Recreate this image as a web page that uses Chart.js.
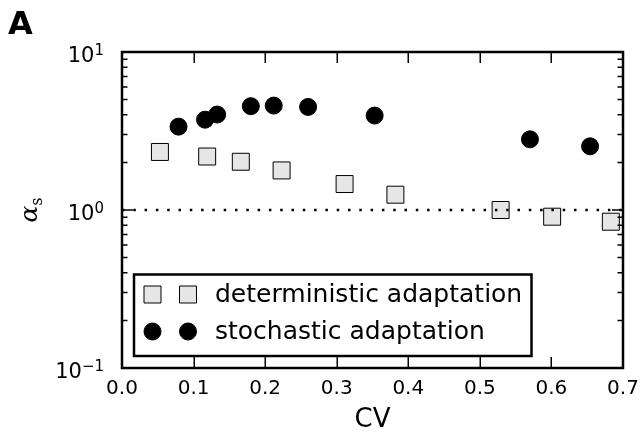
<!DOCTYPE html>
<html><head><meta charset="utf-8">
<script src="https://cdn.jsdelivr.net/npm/chart.js@4/dist/chart.umd.min.js"></script>
<style>html,body{margin:0;padding:0;background:#fff}#wrap{position:relative;width:643px;height:440px}</style>
</head><body><div id="wrap"><canvas id="c"></canvas></div>
<script>
// ---- data ----
const seriesNames = ['deterministic adaptation', 'stochastic adaptation'];
const detCV    = [0.053, 0.119, 0.166, 0.223, 0.311, 0.382, 0.529, 0.601, 0.683];
const detAlpha = [2.33, 2.18, 2.02, 1.78, 1.46, 1.25, 1.00, 0.907, 0.843];
const stoCV    = [0.079, 0.116, 0.133, 0.180, 0.212, 0.260, 0.353, 0.570, 0.654];
const stoAlpha = [3.37, 3.73, 4.02, 4.54, 4.58, 4.49, 3.96, 2.80, 2.53];
const refLevel = 1;
const xMin = 0, xMax = 0.7;
const xTicks = [0, 0.1, 0.2, 0.3, 0.4, 0.5, 0.6, 0.7];
const xTickLabels = ['0.0', '0.1', '0.2', '0.3', '0.4', '0.5', '0.6', '0.7'];
const yMin = 0.1, yMax = 10;
const yTicks = [0.1, 1, 10];
const yTickBase = ['10', '10', '10'];
const yTickExp = ['\u22121', '0', '1'];
const yMinorTicks = [0.2, 0.3, 0.4, 0.5, 0.6, 0.7, 0.8, 0.9, 2, 3, 4, 5, 6, 7, 8, 9];
const xLabel = 'CV';
const panelLabel = 'A';

const FONT = "'DejaVu Sans', sans-serif";
const SERIF = "'DejaVu Serif', serif";

const framePlugin = {
  id: 'frame',
  afterDatasetsDraw(chart) {
    const {ctx, chartArea: a, scales: {x, y}} = chart;
    ctx.save();
    ctx.strokeStyle = '#000';
    ctx.lineWidth = 1.5;
    ctx.beginPath();
    xTicks.forEach(v => {
      const px = Math.round(x.getPixelForValue(v)) + 0.25;
      ctx.moveTo(px, a.bottom); ctx.lineTo(px, a.bottom - 11);
      ctx.moveTo(px, a.top); ctx.lineTo(px, a.top + 11);
    });
    yTicks.forEach(v => {
      const py = y.getPixelForValue(v);
      ctx.moveTo(a.left, py); ctx.lineTo(a.left + 11, py);
      ctx.moveTo(a.right, py); ctx.lineTo(a.right - 11, py);
    });
    yMinorTicks.forEach(v => {
      const py = y.getPixelForValue(v);
      ctx.moveTo(a.left, py); ctx.lineTo(a.left + 5.5, py);
      ctx.moveTo(a.right, py); ctx.lineTo(a.right - 5.5, py);
    });
    ctx.stroke();
    ctx.lineWidth = 2.5;
    ctx.strokeRect(a.left, a.top, a.right - a.left, a.bottom - a.top);
    ctx.restore();
  },
  afterDraw(chart) {
    const {ctx, chartArea: a, scales: {y}} = chart;
    ctx.save();
    // y tick labels with superscript exponents
    ctx.fillStyle = '#000';
    ctx.textAlign = 'left';
    ctx.textBaseline = 'alphabetic';
    yTicks.forEach((v, i) => {
      const py = y.getPixelForValue(v);
      ctx.font = '15px ' + FONT;
      const we = ctx.measureText(yTickExp[i]).width;
      ctx.font = '21px ' + FONT;
      const wb = ctx.measureText(yTickBase[i]).width;
      const right = a.left - 18;
      ctx.fillText(yTickBase[i], right - we - wb, py + 10);
      ctx.font = '15px ' + FONT;
      ctx.fillText(yTickExp[i], right - we, py + 2.5);
    });
    // legend
    const lx = a.left + 12, ly = a.top + 222.5, lw = 397.5, lh = 81.5;
    ctx.fillStyle = '#fff';
    ctx.fillRect(lx, ly, lw, lh);
    ctx.lineWidth = 2.5;
    ctx.strokeStyle = '#000';
    ctx.strokeRect(lx, ly, lw, lh);
    const ds = chart.data.datasets;
    const rows = [ly + 20, ly + 57];
    const mx = [lx + 18.5, lx + 54];
    [0, 1].forEach(i => {
      const d = ds[i];
      mx.forEach(xx => {
        ctx.fillStyle = d.backgroundColor; ctx.strokeStyle = d.borderColor; ctx.lineWidth = d.borderWidth;
        ctx.beginPath();
        if (d.pointStyle === 'rect') {
          const s = d.pointRadius * Math.SQRT1_2;
          ctx.rect(xx - s, rows[i] - s, 2 * s, 2 * s);
        } else {
          ctx.arc(xx, rows[i], d.pointRadius, 0, Math.PI * 2);
        }
        ctx.fill(); ctx.stroke();
      });
      ctx.fillStyle = '#000';
      ctx.font = '25px ' + FONT;
      ctx.textBaseline = 'middle';
      ctx.textAlign = 'left';
      ctx.fillText(d.label, lx + 81, rows[i] + 1);
    });
    // panel label
    ctx.fillStyle = '#000';
    ctx.font = 'bold 32px ' + FONT;
    ctx.textBaseline = 'alphabetic';
    ctx.textAlign = 'left';
    ctx.fillText(panelLabel, 8, 34);
    // y axis label alpha_s
    const cy = (a.top + a.bottom) / 2;
    ctx.translate(37, cy);
    ctx.rotate(-Math.PI / 2);
    ctx.font = 'italic 25px ' + SERIF;
    const wa = ctx.measureText('\u03B1').width;
    ctx.font = '16px ' + SERIF;
    const ws = ctx.measureText('s').width;
    const tot = wa + ws;
    ctx.font = 'italic 25px ' + SERIF;
    ctx.fillText('\u03B1', -tot / 2, 0);
    ctx.font = '16px ' + SERIF;
    ctx.fillText('s', -tot / 2 + wa, 5);
    ctx.restore();
  }
};

const detData = detCV.map((v, i) => ({x: v, y: detAlpha[i]}));
const stoData = stoCV.map((v, i) => ({x: v, y: stoAlpha[i]}));

new Chart(document.getElementById('c'), {
  type: 'scatter',
  data: {
    datasets: [
      {
        label: seriesNames[0], data: detData, pointStyle: 'rect', pointRadius: 12, pointHoverRadius: 12,
        backgroundColor: '#e6e6e6', borderColor: '#000', borderWidth: 1, order: 2
      },
      {
        label: seriesNames[1], data: stoData, pointStyle: 'circle', pointRadius: 8.5, pointHoverRadius: 8.5,
        backgroundColor: '#000', borderColor: '#000', borderWidth: 1, order: 1
      },
      {
        type: 'line', label: 'ref', data: [{x: xMin, y: refLevel}, {x: xMax, y: refLevel}],
        borderColor: '#000', borderWidth: 2.5, borderDash: [2.5, 8.8], pointRadius: 0, fill: false, order: 0
      }
    ]
  },
  options: {
    responsive: true, maintainAspectRatio: false, animation: false, devicePixelRatio: 1,
    layout: {padding: {left: 0, right: 20, top: 52, bottom: 0}},
    plugins: {legend: {display: false}, tooltip: {enabled: false}},
    scales: {
      x: {
        type: 'linear', min: xMin, max: xMax,
        grid: {display: false, drawTicks: false}, border: {display: false},
        afterBuildTicks: s => { s.ticks = xTicks.map(v => ({value: v})); },
        afterFit: s => { s.height = 72; s.paddingLeft = 0; s.paddingRight = 0; },
        ticks: {
          padding: 9, color: '#000', font: {family: FONT, size: 20}, maxRotation: 0, autoSkip: false,
          callback: (v, i) => xTickLabels[i]
        },
        title: {display: true, text: xLabel, color: '#000', font: {family: FONT, size: 26}, padding: {top: 0, bottom: 4}}
      },
      y: {
        type: 'logarithmic', min: yMin, max: yMax,
        grid: {display: false, drawTicks: false}, border: {display: false},
        afterBuildTicks: s => { s.ticks = yTicks.map(v => ({value: v})); },
        afterFit: s => { s.width = 122; s.paddingTop = 0; s.paddingBottom = 0; },
        ticks: {display: false}
      }
    }
  },
  plugins: [framePlugin]
});
</script></body></html>
